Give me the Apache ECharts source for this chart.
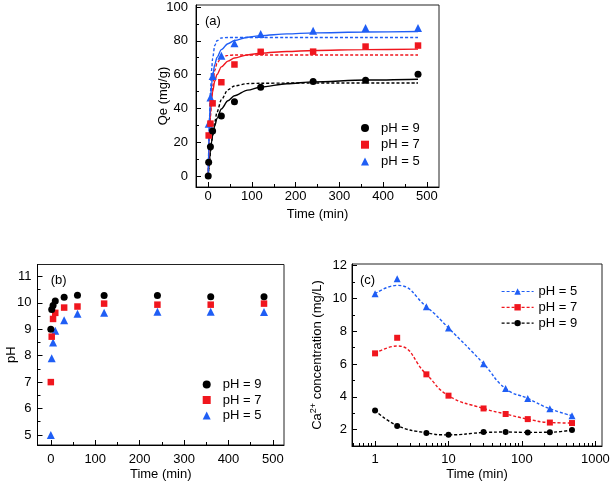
<!DOCTYPE html>
<html><head><meta charset="utf-8">
<script src="https://cdn.jsdelivr.net/npm/echarts@6/dist/echarts.min.js"></script>
<style>html,body{margin:0;padding:0;background:#fff}#c{width:614px;height:484px}</style>
</head><body><div id="c"></div>
<script>
// ---------- Panel (a): adsorption capacity vs time ----------
const timeA9 = [0, 1, 5, 10, 30, 60, 120, 240, 360, 480];
const qeA9 = [0, 8.2, 17.3, 26.7, 35.5, 44, 52.6, 56, 56.6, 60.2];
const timeA = [1, 5, 10, 30, 60, 120, 240, 360, 480];
const qeA7 = [24, 31, 43, 55.5, 66, 73.5, 73.6, 76.6, 77.2];
const qeA5 = [31, 46.5, 59.2, 71.2, 78.5, 84, 86, 87.6, 87.6];
// fitted curves
const fitT = [0, 1, 2, 3, 5, 8, 10, 15, 20, 30, 45, 60, 90, 120, 180, 240, 360, 480];
const solid9 = [0, 3.8, 7.1, 10.0, 15.0, 20.8, 23.9, 29.8, 34.1, 39.7, 44.5, 47.5, 50.8, 52.7, 54.6, 55.7, 56.8, 57.3];
const dash9 = [0, 3.1, 6.0, 8.7, 13.7, 20.6, 24.2, 32.1, 37.8, 45.1, 51.0, 53.3, 54.7, 54.9, 55, 55, 55, 55];
const solid7 = [0, 12.1, 20.9, 27.6, 37.0, 45.8, 49.8, 56.2, 60.1, 64.6, 68.0, 69.8, 71.7, 72.7, 73.7, 74.3, 74.8, 75.1];
const dash7 = [0, 9.0, 16.8, 23.7, 35.2, 47.6, 52.8, 62.5, 66.8, 70.2, 71.4, 71.6, 71.6, 71.6, 71.6, 71.6, 71.6, 71.6];
const solid5 = [0, 15.4, 26.2, 34.2, 45.0, 54.8, 59.1, 66.0, 70.2, 74.8, 78.3, 80.2, 82.1, 83.1, 84.1, 84.7, 85.2, 85.5];
const dash5 = [0, 14.0, 25.7, 35.5, 49.6, 63.6, 69.6, 77.2, 80.1, 81.7, 82.0, 82, 82, 82, 82, 82, 82, 82];
const ticksA_x = [0, 100, 200, 300, 400, 500];
const minorA_x = [50, 150, 250, 350, 450];
const ticksA_y = [0, 20, 40, 60, 80, 100];
const minorA_y = [10, 30, 50, 70, 90];

// ---------- Panel (b): pH vs time ----------
const timeB = [0, 2, 5, 10, 30, 60, 120, 240, 360, 480];
const phB9 = [9.0, 9.75, 9.9, 10.07, 10.21, 10.29, 10.28, 10.28, 10.23, 10.23];
const phB7 = [7.0, 8.72, 9.39, 9.62, 9.82, 9.86, 9.97, 9.93, 9.93, 9.97];
const phB5 = [5.0, 7.9, 8.5, 8.94, 9.34, 9.59, 9.62, 9.66, 9.66, 9.65];
const ticksB_x = [0, 100, 200, 300, 400, 500];
const minorB_x = [50, 150, 250, 350, 450];
const ticksB_y = [5, 6, 7, 8, 9, 10, 11];
const minorB_y = [5.5, 6.5, 7.5, 8.5, 9.5, 10.5];

// ---------- Panel (c): Ca2+ concentration vs time (log x) ----------
const timeC = [1, 2, 5, 10, 30, 60, 120, 240, 480];
const caC5 = [10.28, 11.2, 9.5, 8.2, 6.02, 4.5, 3.9, 3.27, 2.85];
const caC7 = [6.65, 7.6, 5.37, 4.07, 3.29, 2.95, 2.64, 2.43, 2.4];
const caC9 = [3.17, 2.22, 1.8, 1.68, 1.85, 1.86, 1.83, 1.84, 1.98];
const curveC5 = [10.28, 10.8, 9.5, 8.2, 6.02, 4.5, 3.9, 3.27, 2.85];
const curveC7 = [6.65, 7.1, 5.37, 4.07, 3.29, 2.95, 2.64, 2.43, 2.4];
const curveC9 = [3.17, 2.25, 1.8, 1.68, 1.82, 1.85, 1.83, 1.84, 1.98];
const ticksC_x = [1, 10, 100, 1000];
const minorC_x = [0.5, 0.6, 0.7, 0.8, 0.9, 2, 3, 4, 5, 6, 7, 8, 9, 20, 30, 40, 50, 60, 70, 80, 90, 200, 300, 400, 500, 600, 700, 800, 900];
const ticksC_y = [2, 4, 6, 8, 10, 12];
const minorC_y = [3, 5, 7, 9, 11];

const legendNames = {a9:'pH = 9', a7:'pH = 7', a5:'pH = 5', b9:'pH = 9', b7:'pH = 7', b5:'pH = 5', c5:'pH = 5', c7:'pH = 7', c9:'pH = 9'};

const FONT = '"Liberation Sans", Arial, Helvetica, sans-serif';
const BLACK = '#000000', RED = '#f0161e', BLUE = '#1f5ef5';
const lg = Math.log10;

function axisPair(dim, gridIndex, min, max, major, minor, o) {
  const base = {gridIndex, type:'value', min, max, position: dim === 'x' ? 'bottom' : 'left', splitLine:{show:false}};
  const main = Object.assign({}, base, {
    axisLine:{show:true, onZero:false, lineStyle:{color:'#000', width:1}},
    axisTick:{show:true, inside:true, length:5, customValues:major, lineStyle:{color:'#000', width:1}},
    axisLabel:{show:true, customValues:major, margin:o.margin, fontSize:13, color:'#000', fontFamily:FONT, formatter:o.fmt},
    name:o.name, nameLocation:'middle', nameGap:o.nameGap, nameMoveOverlap:false,
    nameTextStyle:{fontSize:13, color:'#000', fontFamily:FONT, rich:o.rich}
  });
  const mn = Object.assign({}, base, {
    axisLine:{show:false, onZero:false},
    axisTick:{show:true, inside:true, length:3, customValues:minor, lineStyle:{color:'#000', width:1}},
    axisLabel:{show:false}
  });
  return [main, mn];
}

const xAxes = [
  ...axisPair('x', 0, -28, 528, ticksA_x, minorA_x, {margin:3, name:'Time (min)', nameGap:21}),
  ...axisPair('x', 1, -30, 525, ticksB_x, minorB_x, {margin:8, name:'Time (min)', nameGap:23}),
  ...axisPair('x', 2, -0.314, 3.09, ticksC_x.map(lg), minorC_x.map(lg), {margin:7, name:'Time (min)', nameGap:22,
      fmt: v => String(Math.round(Math.pow(10, v)))})
];
const yAxes = [
  ...axisPair('y', 0, -6.5, 101.2, ticksA_y, minorA_y, {margin:8, name:'Qe (mg/g)', nameGap:26}),
  ...axisPair('y', 1, 4.62, 11.45, ticksB_y, minorB_y, {margin:6, name:'pH', nameGap:20}),
  ...axisPair('y', 2, 1.0, 12.1, ticksC_y, minorC_y, {margin:5, nameGap:27,
      name:'{t|Ca}{s|2+}{t| concentration (mg/L)}',
      rich:{t:{fontSize:13, fontFamily:FONT, color:'#000'}, s:{fontSize:9, fontFamily:FONT, color:'#000', verticalAlign:'bottom', padding:[0,0,7,0]}}})
];

const pts = (xs, ys, f) => xs.map((x, i) => [f ? f(x) : x, ys[i]]);

function scatter(name, xi, yi, data, symbol, size, color, z) {
  return {type:'scatter', name, xAxisIndex:xi, yAxisIndex:yi, data, symbol, symbolSize:size,
    itemStyle:{color, opacity:1}, z, silent:true, animation:false};
}
function curve(xi, yi, data, color, dashed, smooth, mono) {
  const s = {type:'line', xAxisIndex:xi, yAxisIndex:yi, data, showSymbol:false, symbol:'none',
    smooth: smooth,
    lineStyle:{color, width:1.4, type: dashed ? [3, 2] : 'solid'}, z:2, silent:true, animation:false};
  if (mono) s.smoothMonotone = 'x';
  return s;
}

const series = [
  // (a) fits
  curve(0, 0, pts(fitT, solid9), BLACK, false, 0.3, true),
  curve(0, 0, pts(fitT, dash9), BLACK, true, 0.3, true),
  curve(0, 0, pts(fitT, solid7), RED, false, 0.3, true),
  curve(0, 0, pts(fitT, dash7), RED, true, 0.3, true),
  curve(0, 0, pts(fitT, solid5), BLUE, false, 0.3, true),
  curve(0, 0, pts(fitT, dash5), BLUE, true, 0.3, true),
  // (a) points
  scatter('a5', 0, 0, pts(timeA, qeA5), 'triangle', 8, BLUE, 3),
  scatter('a7', 0, 0, pts(timeA, qeA7), 'rect', 6.5, RED, 4),
  scatter('a9', 0, 0, pts(timeA9, qeA9), 'circle', 7, BLACK, 5),
  // (b) points
  scatter('b5', 2, 2, pts(timeB, phB5), 'triangle', 8, BLUE, 3),
  scatter('b7', 2, 2, pts(timeB, phB7), 'rect', 6.5, RED, 4),
  scatter('b9', 2, 2, pts(timeB, phB9), 'circle', 7, BLACK, 5),
  // (c) curves
  curve(4, 4, pts(timeC, curveC5, lg), BLUE, true, 0.5, false),
  curve(4, 4, pts(timeC, curveC7, lg), RED, true, 0.5, false),
  curve(4, 4, pts(timeC, curveC9, lg), BLACK, true, 0.5, false),
];
// (c) points as line series (line hidden) so the legend shows line + marker
[['c5', caC5, 'triangle', 7, BLUE], ['c7', caC7, 'rect', 6, RED], ['c9', caC9, 'circle', 6, BLACK]].forEach(([n, ys, sym, sz, col]) => {
  series.push({type:'line', name:n, xAxisIndex:4, yAxisIndex:4, data:pts(timeC, ys, lg), symbol:sym, symbolSize:sz,
    showSymbol:true, itemStyle:{color:col}, lineStyle:{color:col, opacity:0, width:1.2}, z:4, silent:true, animation:false});
});

function legend(names, left, top, extra) {
  return Object.assign({data:names, orient:'vertical', left, top, padding:0, itemWidth:8, itemHeight:8, itemGap:2.7,
    selectedMode:false, formatter: n => legendNames[n],
    textStyle:{fontSize:13, color:'#000', fontFamily:FONT, lineHeight:14, padding:[0, 0, 0, 7]}}, extra || {});
}

const option = {
  animation:false,
  backgroundColor:'#ffffff',
  grid:[
    {left:196, top:5, width:243, height:182, show:true, borderColor:'#222', borderWidth:1, containLabel:false},
    {left:37.5, top:264.5, width:246.5, height:180.5, show:true, borderColor:'#222', borderWidth:1, containLabel:false},
    {left:352, top:264, width:250, height:182, show:true, borderColor:'#222', borderWidth:1, containLabel:false}
  ],
  xAxis: xAxes,
  yAxis: yAxes,
  legend:[
    legend(['a9', 'a7', 'a5'], 361, 121),
    legend(['b9', 'b7', 'b5'], 202.7, 377.5, {itemGap:1.5}),
    legend(['c5', 'c7', 'c9'], 501, 284.5, {itemWidth:32, itemHeight:8, itemGap:1.8,
      textStyle:{fontSize:13, color:'#000', fontFamily:FONT, lineHeight:14},
      lineStyle:{opacity:1, type:[3, 2], width:1.2}})
  ],
  graphic:[
    {type:'text', x:205, y:21.7, style:{text:'(a)', fontSize:13, fontFamily:FONT, fill:'#000', verticalAlign:'middle'}},
    {type:'text', x:50.7, y:280, style:{text:'(b)', fontSize:13, fontFamily:FONT, fill:'#000', verticalAlign:'middle'}},
    {type:'text', x:360, y:280.5, style:{text:'(c)', fontSize:13, fontFamily:FONT, fill:'#000', verticalAlign:'middle'}}
  ],
  series
};
const chart = echarts.init(document.getElementById('c'), null, {renderer:'canvas'});
chart.setOption(option);
</script></body></html>
